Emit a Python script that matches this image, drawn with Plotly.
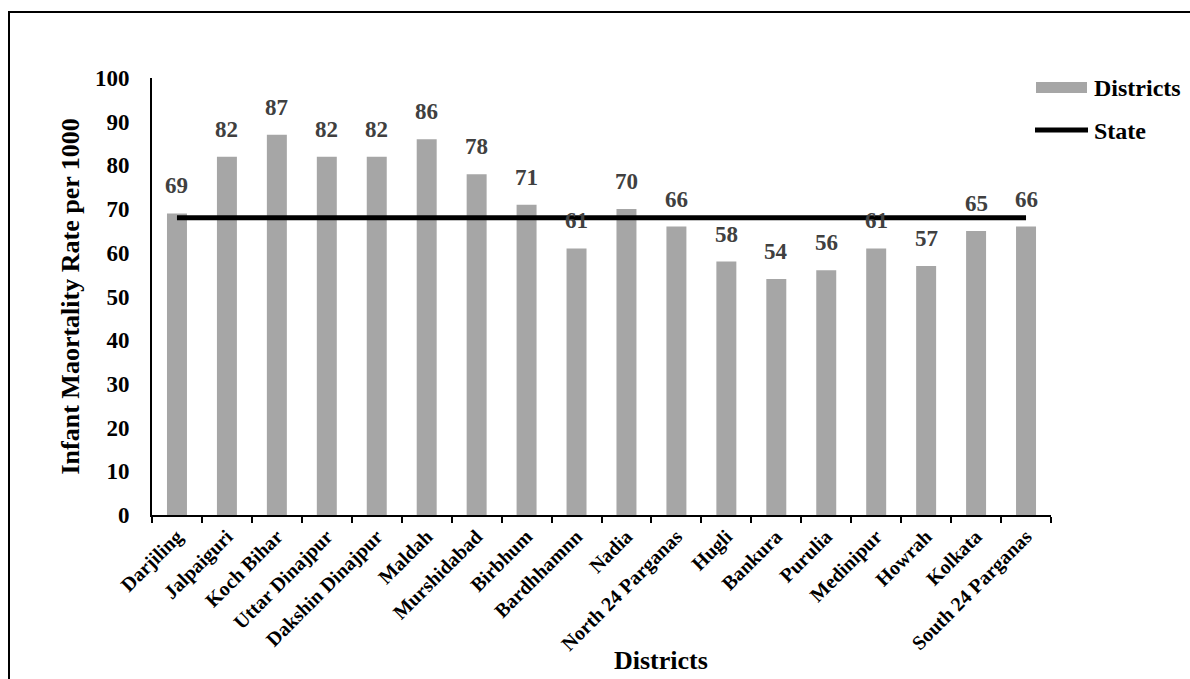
import plotly.graph_objects as go

# Infant mortality rate per 1000 live births, by district, with the state average
districts = [
    "Darjiling", "Jalpaiguri", "Koch Bihar", "Uttar Dinajpur", "Dakshin Dinajpur",
    "Maldah", "Murshidabad", "Birbhum", "Bardhhamnn", "Nadia",
    "North 24 Parganas", "Hugli", "Bankura", "Purulia", "Medinipur",
    "Howrah", "Kolkata", "South 24 Parganas",
]
district_imr = [69, 82, 87, 82, 82, 86, 78, 71, 61, 70, 66, 58, 54, 56, 61, 57, 65, 66]
state_imr = 68
y_ticks = list(range(0, 101, 10))

FONT = "Liberation Serif, Times New Roman, serif"
W, H = 1190, 679
M_L, M_R, M_T, M_B = 152, 139, 78, 164
PW, PH = W - M_L - M_R, H - M_T - M_B


def px_x(px):
    """Pixel x on the page -> paper x."""
    return (px - M_L) / PW


def px_y(py):
    """Pixel y on the page -> paper y."""
    return (H - M_B - py) / PH


fig = go.Figure()

fig.add_trace(go.Bar(
    x=districts, y=district_imr, name="Districts",
    marker=dict(color="#A6A6A6", line=dict(width=0)),
    width=0.4, showlegend=False,
))

fig.add_trace(go.Scatter(
    x=districts, y=[state_imr] * len(districts), name="State",
    mode="lines", line=dict(color="black", width=5),
    showlegend=False,
))

# value labels above each bar
for d, v in zip(districts, district_imr):
    fig.add_annotation(
        x=d, y=v, text=f"<b>{v}</b>", showarrow=False,
        yanchor="bottom", yshift=13,
        font=dict(family=FONT, size=23, color="#404040"),
    )

# axis titles
fig.add_annotation(
    x=px_x(70), y=0.5, xref="paper", yref="paper",
    xanchor="center", yanchor="middle",
    text="<b>Infant Maortality Rate per 1000</b>", textangle=-90,
    showarrow=False, font=dict(family=FONT, size=26, color="black"),
)
fig.add_annotation(
    x=px_x(661), y=px_y(677), xref="paper", yref="paper",
    xanchor="center", yanchor="bottom",
    text="<b>Districts</b>", showarrow=False,
    font=dict(family=FONT, size=26, color="black"),
)

# legend
fig.add_shape(
    type="rect", xref="paper", yref="paper",
    x0=px_x(1036), x1=px_x(1087), y0=px_y(93), y1=px_y(82),
    fillcolor="#A6A6A6", line=dict(width=0),
)
fig.add_shape(
    type="line", xref="paper", yref="paper",
    x0=px_x(1035), x1=px_x(1088), y0=px_y(130), y1=px_y(130),
    line=dict(color="black", width=5),
)
fig.add_annotation(
    x=px_x(1092), y=px_y(88), xref="paper", yref="paper",
    text="<b>Districts</b>", showarrow=False, xanchor="left", yanchor="middle",
    font=dict(family=FONT, size=24, color="black"),
)
fig.add_annotation(
    x=px_x(1092), y=px_y(131), xref="paper", yref="paper",
    text="<b>State</b>", showarrow=False, xanchor="left", yanchor="middle",
    font=dict(family=FONT, size=24, color="black"),
)

# frame around the chart
fig.add_shape(
    type="rect", xref="paper", yref="paper",
    x0=px_x(9), x1=px_x(W + 20), y0=px_y(H + 20), y1=px_y(12),
    line=dict(color="black", width=2), fillcolor="rgba(0,0,0,0)",
)

fig.update_layout(
    width=W, height=H,
    margin=dict(l=M_L, r=M_R, t=M_T, b=M_B),
    plot_bgcolor="white", paper_bgcolor="white",
    font=dict(family=FONT, color="black"),
    bargap=0.6,
)

fig.update_xaxes(
    type="category", showline=True, linecolor="black", linewidth=2,
    ticks="outside", tickson="boundaries", ticklen=6, tickwidth=2, tickcolor="black",
    tickangle=-45, tickfont=dict(family=FONT, size=20, color="black"),
    tickprefix="<b>", ticksuffix="</b>",
    showgrid=False, zeroline=False,
)
fig.update_yaxes(
    range=[0, 100], tickvals=y_ticks, ticktext=[f"<b>{t}</b>" for t in y_ticks],
    showline=True, linecolor="black", linewidth=2, ticks="",
    tickfont=dict(family=FONT, size=23, color="black"),
    showgrid=False, zeroline=False, ticklabelstandoff=16,
)

fig.write_html("out.html")
